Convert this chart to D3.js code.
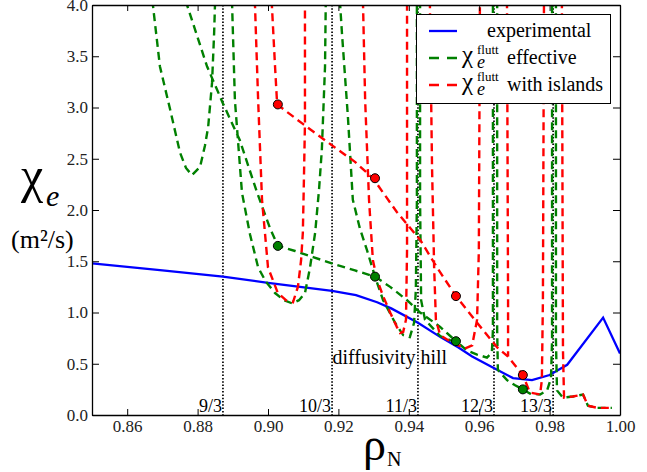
<!DOCTYPE html>
<html>
<head>
<meta charset="utf-8">
<script src="https://cdn.jsdelivr.net/npm/d3@7"></script>
<style>
body { margin: 0; background: #fff; }
</style>
</head>
<body>
<svg width="647" height="472"></svg>
<script>
// ---- data ----
var xTicks = [0.86, 0.88, 0.90, 0.92, 0.94, 0.96, 0.98, 1.00];
var yTicks = [0, 0.5, 1.0, 1.5, 2.0, 2.5, 3.0, 3.5, 4.0];

// rational surfaces (dotted lines)
var surfaceRho = [0.8872, 0.9182, 0.9426, 0.9642, 0.9810];
var surfaceLabels = ["9/3", "10/3", "11/3", "12/3", "13/3"];

// experimental chi_e
var expRho = [0.85, 0.87, 0.8872, 0.90, 0.9182, 0.925, 0.931, 0.935, 0.9426, 0.949, 0.954, 0.958, 0.964, 0.9696, 0.975, 0.980, 0.985, 0.9952, 1.00];
var expChi = [1.48, 1.41, 1.35, 1.29, 1.21, 1.17, 1.10, 1.04, 0.90, 0.76, 0.66, 0.57, 0.46, 0.36, 0.34, 0.39, 0.49, 0.95, 0.60];

// values at the sample points (circles)
var dotRho = [0.9028, 0.9304, 0.9534, 0.9724];
var effDotChi = [1.65, 1.35, 0.72, 0.25];
var islDotChi = [3.03, 2.31, 1.16, 0.39];

// chi_e^flutt effective, [rho, chi] branches, null = break
var effCurve = [
  [0.8668, 4.3], [0.8673, 4.0], [0.8693, 3.40], [0.8722, 2.98], [0.8750, 2.56], [0.8767, 2.41], [0.8784, 2.34],
  [0.8807, 2.42], [0.8821, 2.63], [0.8830, 2.81], [0.8841, 3.24], [0.8847, 3.73], [0.8852, 4.3],
  null,
  [0.8767, 4.3], [0.8770, 4.0], [0.8827, 3.40], [0.8872, 3.04], [0.8920, 2.68], [0.8969, 2.17], [0.9006, 1.82],
  [0.9028, 1.65], [0.9077, 1.60], [0.9128, 1.54], [0.9190, 1.47], [0.9247, 1.41], [0.9304, 1.35],
  null,
  [0.8895, 4.3], [0.8898, 4.0], [0.8906, 3.07], [0.8926, 2.17], [0.8949, 1.76], [0.8972, 1.44], [0.8994, 1.30],
  [0.9020, 1.19], [0.9045, 1.12], [0.9068, 1.09], [0.9088, 1.12], [0.9105, 1.19], [0.9119, 1.43], [0.9134, 1.78],
  [0.9145, 2.20], [0.9153, 2.59], [0.9162, 3.40], [0.9165, 4.3],
  null,
  [0.9202, 4.3], [0.9205, 4.0], [0.9210, 3.73], [0.9227, 2.91], [0.9241, 2.10], [0.9261, 1.82], [0.9281, 1.61],
  [0.9304, 1.35], [0.9327, 1.12], [0.9361, 0.90], [0.9384, 0.78], [0.9403, 0.76], [0.9415, 0.90], [0.9420, 1.22],
  [0.9423, 2.10], [0.9423, 4.3],
  null,
  [0.9432, 4.3], [0.9432, 2.10], [0.9435, 1.12], [0.9446, 0.93], [0.9489, 0.77], [0.9517, 0.73], [0.9534, 0.72],
  [0.9565, 0.63], [0.9594, 0.59], [0.9622, 0.56], [0.9636, 0.61], [0.9639, 0.83], [0.9639, 4.3],
  null,
  [0.9304, 1.35], [0.9347, 1.25], [0.9395, 1.12], [0.9432, 1.00], [0.9489, 0.86], [0.9534, 0.72],
  null,
  [0.9651, 4.3], [0.9651, 0.83], [0.9653, 0.44], [0.9679, 0.34], [0.9702, 0.29], [0.9724, 0.25],
  [0.9744, 0.21], [0.9773, 0.20], [0.9793, 0.24], [0.9804, 0.36], [0.9807, 0.73], [0.9807, 4.3],
  null,
  [0.9818, 4.3], [0.9818, 0.73], [0.9821, 0.24], [0.9838, 0.17], [0.9866, 0.18], [0.9895, 0.20], [0.9909, 0.09],
  [0.9935, 0.07], [0.9977, 0.07]
];

// chi_e^flutt with islands
var islCurve = [
  [0.8960, 4.3], [0.8963, 4.0], [0.8972, 3.07], [0.8983, 2.10], [0.9000, 1.44], [0.9028, 1.19], [0.9051, 1.12],
  [0.9071, 1.10], [0.9085, 1.25], [0.9094, 1.51], [0.9099, 1.78], [0.9102, 2.29], [0.9105, 2.85], [0.9105, 4.3],
  null,
  [0.9009, 4.3], [0.9011, 4.0], [0.9020, 3.40], [0.9026, 3.03], [0.9099, 2.84], [0.9190, 2.61], [0.9247, 2.47],
  [0.9298, 2.31], [0.9366, 1.98], [0.9432, 1.71], [0.9480, 1.44], [0.9534, 1.16], [0.9594, 0.90], [0.9651, 0.66],
  [0.9682, 0.57], [0.9724, 0.39], [0.9744, 0.22], [0.9773, 0.20], [0.9778, 0.34], [0.9781, 1.12], [0.9784, 4.0],
  [0.9784, 4.3],
  null,
  [0.9267, 4.3], [0.9270, 4.0], [0.9276, 3.07], [0.9287, 2.10], [0.9298, 1.51], [0.9310, 1.32], [0.9327, 1.16],
  [0.9347, 1.00], [0.9366, 0.86], [0.9375, 0.80], [0.9384, 0.81], [0.9392, 0.93], [0.9395, 1.61], [0.9395, 4.3],
  null,
  [0.9457, 4.3], [0.9460, 4.0], [0.9466, 2.42], [0.9472, 1.44], [0.9477, 0.93], [0.9489, 0.78], [0.9526, 0.70],
  [0.9560, 0.65], [0.9580, 0.68], [0.9594, 0.93], [0.9599, 1.61], [0.9602, 4.0], [0.9602, 4.3],
  null,
  [0.9679, 4.3], [0.9679, 4.0], [0.9682, 1.12], [0.9682, 0.57],
  null,
  [0.9835, 4.3], [0.9835, 4.0], [0.9838, 0.63], [0.9841, 0.17], [0.9866, 0.18], [0.9895, 0.20], [0.9909, 0.09],
  [0.9935, 0.07], [0.9977, 0.07]
];

// ---- layout ----
var svg = d3.select("svg");
var margin = {top: 5, right: 27, bottom: 57, left: 92},
    width = 647 - margin.left - margin.right,
    height = 472 - margin.top - margin.bottom;

var x = d3.scaleLinear().domain([0.85, 1.00]).range([0, width]),
    y = d3.scaleLinear().domain([0, 4]).range([height, 0]);

var serif = "'Liberation Serif'";

var g = svg.append("g")
    .attr("transform", "translate(" + margin.left + "," + margin.top + ")");

g.append("clipPath").attr("id", "plot-clip")
  .append("rect").attr("width", width).attr("height", height);

var plot = g.append("g").attr("clip-path", "url(#plot-clip)");

// dotted rational surfaces
plot.selectAll(".surface")
  .data(surfaceRho)
  .enter().append("line")
    .attr("class", "surface")
    .attr("x1", d => x(d)).attr("x2", d => x(d))
    .attr("y1", 0).attr("y2", height)
    .attr("stroke", "#000")
    .attr("stroke-width", 1.7)
    .attr("stroke-dasharray", "1.5,1.8");

var line = d3.line()
    .defined(d => d !== null)
    .x(d => x(d[0]))
    .y(d => y(d[1]));

var expData = expRho.map((r, i) => [r, expChi[i]]);

plot.append("path")
    .datum(expData)
    .attr("d", line)
    .attr("fill", "none")
    .attr("stroke", "#0000ff")
    .attr("stroke-width", 2.3);

plot.append("path")
    .datum(effCurve)
    .attr("d", line)
    .attr("fill", "none")
    .attr("stroke", "#008000")
    .attr("stroke-width", 2.4)
    .attr("stroke-dasharray", "8,5");

plot.append("path")
    .datum(islCurve)
    .attr("d", line)
    .attr("fill", "none")
    .attr("stroke", "#ff0000")
    .attr("stroke-width", 2.4)
    .attr("stroke-dasharray", "8,5");

// sample point markers
function drawDots(values, colour) {
  plot.selectAll(null)
    .data(dotRho)
    .enter().append("circle")
      .attr("cx", d => x(d))
      .attr("cy", (d, i) => y(values[i]))
      .attr("r", 4.5)
      .attr("fill", colour)
      .attr("stroke", "#000")
      .attr("stroke-width", 1);
}
drawDots(effDotChi, "#008000");
drawDots(islDotChi, "#ff0000");

// surface labels at the bottom
g.selectAll(".surf-label")
  .data(surfaceRho)
  .enter().append("text")
    .attr("class", "surf-label")
    .attr("x", d => x(d) - 1)
    .attr("y", height - 3)
    .attr("text-anchor", "end")
    .attr("font-family", serif)
    .attr("font-size", 18)
    .text((d, i) => surfaceLabels[i]);

g.append("text")
    .attr("x", x(0.9183))
    .attr("y", 359)
    .attr("font-family", serif)
    .attr("font-size", 20)
    .text("diffusivity hill");

// ---- axes, ticks inside on all four sides ----
var axisStyle = function(sel) {
  sel.attr("font-family", serif).attr("font-size", 17);
  sel.selectAll(".domain").attr("stroke", "#000").attr("stroke-width", 1.3);
  sel.selectAll(".tick line").attr("stroke", "#000").attr("stroke-width", 1);
  sel.selectAll("text").attr("fill", "#222");
};

g.append("g")
    .attr("transform", "translate(0," + height + ")")
    .call(d3.axisBottom(x).tickValues(xTicks).tickFormat(d3.format(".2f")).tickSizeInner(-6).tickSizeOuter(0).tickPadding(5))
    .call(axisStyle);

g.append("g")
    .call(d3.axisTop(x).tickValues(xTicks).tickFormat("").tickSizeInner(-6).tickSizeOuter(0))
    .call(axisStyle);

g.append("g")
    .call(d3.axisLeft(y).tickValues(yTicks).tickFormat(d3.format(".1f")).tickSizeInner(-7).tickSizeOuter(0).tickPadding(4))
    .call(axisStyle);

g.append("g")
    .attr("transform", "translate(" + width + ",0)")
    .call(d3.axisRight(y).tickValues(yTicks).tickFormat("").tickSizeInner(-7).tickSizeOuter(0))
    .call(axisStyle);

// ---- axis titles ----
var ylab = svg.append("g").attr("font-family", serif);
ylab.append("text").attr("x", 21).attr("y", 192).attr("font-size", 50).text("χ");
ylab.append("text").attr("x", 46).attr("y", 206).attr("font-size", 30).attr("font-style", "italic").text("e");
ylab.append("text").attr("x", 11).attr("y", 248).attr("font-size", 26).text("(m²/s)");

var xlab = svg.append("g").attr("font-family", serif);
xlab.append("text").attr("x", 363).attr("y", 460).attr("font-size", 46).text("ρ");
xlab.append("text").attr("x", 387).attr("y", 466).attr("font-size", 20).text("N");

// ---- legend ----
var legend = svg.append("g").attr("font-family", serif);
legend.append("rect")
    .attr("x", 416.5).attr("y", 14.5)
    .attr("width", 194).attr("height", 89)
    .attr("fill", "#fff").attr("stroke", "#000").attr("stroke-width", 1);

var legendRows = [
  {colour: "#0000ff", dash: null, label: "experimental", chi: false},
  {colour: "#008000", dash: "10,8", label: "effective", chi: true},
  {colour: "#ff0000", dash: "10,8", label: "with islands", chi: true}
];

legendRows.forEach(function(row, i) {
  var base = 37 + i * 27;
  legend.append("line")
      .attr("x1", 429).attr("x2", 457)
      .attr("y1", base - 6).attr("y2", base - 6)
      .attr("stroke", row.colour)
      .attr("stroke-width", 2.3)
      .attr("stroke-dasharray", row.dash);
  if (row.chi) {
    legend.append("text").attr("x", 462).attr("y", base - 1).attr("font-size", 25).text("χ");
    legend.append("text").attr("x", 477).attr("y", base - 10).attr("font-size", 13).text("flutt");
    legend.append("text").attr("x", 477).attr("y", base + 4).attr("font-size", 18).attr("font-style", "italic").text("e");
    legend.append("text").attr("x", 507).attr("y", base).attr("font-size", 20).text(row.label);
  } else {
    legend.append("text").attr("x", 487).attr("y", base).attr("font-size", 20).text(row.label);
  }
});
</script>
</body>
</html>
